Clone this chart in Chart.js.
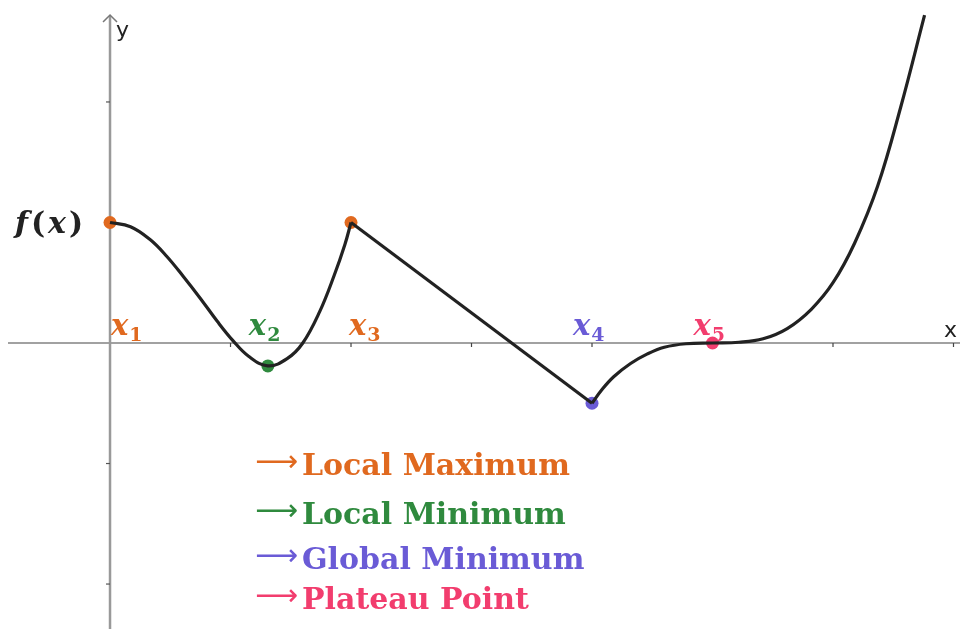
<!DOCTYPE html>
<html>
<head>
<meta charset="utf-8">
<script src="https://cdn.jsdelivr.net/npm/chart.js@4.4.1/dist/chart.umd.min.js"></script>
<style>
  html, body { margin: 0; padding: 0; background: #fff; overflow: hidden; }
  #wrap { width: 960px; height: 629px; position: relative; }
  canvas { display: block; }
</style>
</head>
<body>
<div id="wrap"><canvas id="myChart"></canvas></div>
<script>
// courbe f(x), en trois morceaux
const seg1X = [0, 0.17, 0.33, 0.47, 0.61, 0.75, 0.89, 1.02, 1.15, 1.31, 1.47, 1.6, 1.74, 1.86, 1.95, 2];
const seg1Y = [1, 0.965, 0.86, 0.72, 0.55, 0.37, 0.18, 0.02, -0.11, -0.19, -0.13, 0, 0.26, 0.56, 0.82, 1];
const seg2X = [2, 4];
const seg2Y = [1, -0.5];
const seg3X = [4, 4.08, 4.18, 4.32, 4.46, 4.6, 4.78, 5, 5.22, 5.42, 5.62, 5.82, 6.0, 6.18, 6.37, 6.56, 6.76];
const seg3Y = [-0.5, -0.39, -0.28, -0.17, -0.09, -0.035, -0.006, 0, 0.006, 0.035, 0.12, 0.28, 0.5, 0.83, 1.3, 1.95, 2.72];

// points remarquables x1..x5
const pointNames = ['1', '2', '3', '4', '5'];
const pointX = [0, 1.31, 2, 4, 5];
const pointY = [1, -0.19, 1, -0.5, 0];
const pointColors = ['#e0691f', '#2f8a3e', '#e0691f', '#6a5bd6', '#f23d6e'];

// legende
const legendLabels = ['Local Maximum', 'Local Minimum', 'Global Minimum', 'Plateau Point'];
const legendColors = ['#e0691f', '#2f8a3e', '#6a5bd6', '#f23d6e'];

// graduations
const xTicks = [1, 2, 3, 4, 5, 6, 7];
const yTicks = [-2, -1, 1, 2];

let toXY = (xs, ys) => xs.map((v, i) => ({ x: v, y: ys[i] }));

window.addEventListener("DOMContentLoaded", () => {

    // axes, fleche, textes
    const decor = {
        id: 'decor',
        beforeDatasetsDraw(chart) {
            const { ctx, chartArea, scales: { x, y } } = chart;
            const x0 = x.getPixelForValue(0);
            const y0 = y.getPixelForValue(0);
            ctx.save();

            // axe x
            ctx.strokeStyle = '#444';
            ctx.lineWidth = 1.2;
            ctx.beginPath();
            ctx.moveTo(chartArea.left + 8, y0);
            ctx.lineTo(chartArea.right, y0);
            ctx.stroke();
            xTicks.forEach(v => {
                const px = x.getPixelForValue(v);
                ctx.beginPath();
                ctx.moveTo(px, y0);
                ctx.lineTo(px, y0 + 4);
                ctx.stroke();
            });

            // axe y
            ctx.strokeStyle = '#999';
            ctx.lineWidth = 2.5;
            ctx.beginPath();
            ctx.moveTo(x0, chartArea.top + 16);
            ctx.lineTo(x0, chartArea.bottom);
            ctx.stroke();
            ctx.lineWidth = 1.5;
            ctx.strokeStyle = '#777';
            ctx.beginPath();
            ctx.moveTo(x0 - 7, chartArea.top + 22);
            ctx.lineTo(x0, chartArea.top + 15);
            ctx.lineTo(x0 + 7, chartArea.top + 22);
            ctx.stroke();
            ctx.strokeStyle = '#555';
            ctx.lineWidth = 1.2;
            yTicks.forEach(v => {
                const py = y.getPixelForValue(v);
                ctx.beginPath();
                ctx.moveTo(x0 - 4, py);
                ctx.lineTo(x0, py);
                ctx.stroke();
            });

            // noms des axes
            ctx.fillStyle = '#222';
            ctx.font = '22px "DejaVu Sans"';
            ctx.textBaseline = 'alphabetic';
            ctx.fillText('y', x0 + 6, chartArea.top + 37);
            ctx.fillText('x', chartArea.right - 16, y0 - 6);
            ctx.restore();
        },
        afterDatasetsDraw(chart) {
            const { ctx, chartArea, scales: { x, y } } = chart;
            const y0 = y.getPixelForValue(0);
            ctx.save();
            ctx.textBaseline = 'alphabetic';

            // etiquettes x_i
            const dx = [1, -19, -2, -19, -19];
            pointX.forEach((v, i) => {
                const px = x.getPixelForValue(v) + dx[i];
                ctx.fillStyle = pointColors[i];
                ctx.font = 'italic bold 29px "DejaVu Serif"';
                ctx.fillText('x', px, y0 - 8);
                const w = ctx.measureText('x').width;
                ctx.font = 'bold 19px "DejaVu Serif"';
                ctx.fillText(pointNames[i], px + w + 1, y0 - 2);
            });

            // f(x)
            const fy = y.getPixelForValue(1) + 11;
            const parts = [['f', 'italic bold'], ['(', 'bold'], ['x', 'italic bold'], [')', 'bold']];
            let fx = 15;
            ctx.fillStyle = '#222';
            parts.forEach(p => {
                ctx.font = p[1] + ' 30px "DejaVu Serif"';
                ctx.fillText(p[0], fx, fy);
                fx += ctx.measureText(p[0]).width + 3;
            });

            // legende
            const rows = [475, 524, 569, 609];
            legendLabels.forEach((lab, i) => {
                ctx.fillStyle = legendColors[i];
                ctx.font = '30px "DejaVu Sans"';
                ctx.fillText('\u27F6', 255, chartArea.top + rows[i] - 4);
                ctx.font = 'bold 30px "DejaVu Serif"';
                ctx.fillText(lab, 302, chartArea.top + rows[i]);
            });
            ctx.restore();
        }
    };

    const curveStyle = {
        showLine: true,
        borderColor: '#222',
        borderWidth: 3.2,
        pointRadius: 0,
        fill: false
    };

    const config = {
        type: 'scatter',
        data: {
            datasets: [
                Object.assign({ data: toXY(seg1X, seg1Y), tension: 0.4 }, curveStyle),
                Object.assign({ data: toXY(seg2X, seg2Y), tension: 0 }, curveStyle),
                Object.assign({ data: toXY(seg3X, seg3Y), tension: 0.4 }, curveStyle),
                {
                    data: toXY(pointX, pointY),
                    pointRadius: 6.5,
                    pointBackgroundColor: pointColors,
                    pointBorderWidth: 0,
                    showLine: false
                }
            ]
        },
        options: {
            responsive: true,
            maintainAspectRatio: false,
            animation: false,
            layout: { padding: 0, autoPadding: false },
            plugins: { legend: { display: false }, tooltip: { enabled: false } },
            scales: {
                x: { type: 'linear', display: false, min: -0.913, max: 7.054 },
                y: { type: 'linear', display: false, min: -2.373, max: 2.846 }
            }
        },
        plugins: [decor]
    };

    const myChart = new Chart(document.getElementById('myChart'), config);
});
</script>
</body>
</html>
